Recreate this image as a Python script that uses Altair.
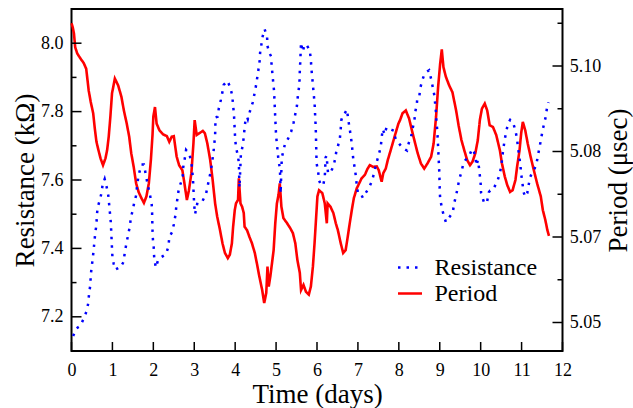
import altair as alt
import pandas as pd

# ---------------- data ----------------
res_t = [0.04, 0.12, 0.21, 0.30, 0.37, 0.41, 0.43, 0.46, 0.47, 0.49, 0.52, 0.54, 0.56, 0.58, 0.61, 0.62,
         0.64, 0.70, 0.74, 0.76, 0.81, 0.86, 0.90, 0.92, 0.94, 0.96, 0.97, 0.98, 0.99, 1.00, 1.03, 1.07,
         1.15, 1.19, 1.27, 1.31, 1.35, 1.39, 1.43, 1.45, 1.49, 1.53, 1.58, 1.60, 1.63, 1.66, 1.71, 1.77,
         1.85, 1.92, 1.96, 1.97, 1.98, 1.99, 2.01, 2.02, 2.06, 2.12, 2.20, 2.31, 2.37, 2.39, 2.46, 2.50,
         2.54, 2.56, 2.59, 2.62, 2.67, 2.72, 2.73, 2.77, 2.80, 2.88, 2.93, 2.95, 2.97, 2.98, 3.00, 3.02,
         3.08, 3.20, 3.29, 3.33, 3.37, 3.41, 3.44, 3.47, 3.49, 3.51, 3.515, 3.52, 3.57, 3.60, 3.65, 3.69,
         3.72, 3.81, 3.88, 3.93, 3.95, 3.97, 3.98, 3.99, 4.00, 4.02, 4.06, 4.09, 4.095, 4.10, 4.105, 4.14,
         4.18, 4.21, 4.23, 4.25, 4.29, 4.31, 4.37, 4.43, 4.47, 4.51, 4.54, 4.57, 4.60, 4.61, 4.64, 4.67,
         4.72, 4.78, 4.79, 4.83, 4.88, 4.89, 4.91, 4.93, 4.95, 4.96, 4.97, 4.98, 4.99, 5.00, 5.02, 5.04,
         5.06, 5.09, 5.10, 5.105, 5.11, 5.14, 5.19, 5.22, 5.29, 5.37, 5.43, 5.47, 5.51, 5.53, 5.56, 5.575,
         5.58, 5.59, 5.60, 5.61, 5.65, 5.70, 5.75, 5.82, 5.85, 5.86, 5.88, 5.90, 5.92, 5.94, 5.95, 5.96,
         5.97, 5.975, 5.98, 5.985, 5.99, 6.03, 6.05, 6.09, 6.15, 6.19, 6.20, 6.21, 6.24, 6.25, 6.27, 6.32,
         6.40, 6.45, 6.48, 6.51, 6.56, 6.58, 6.59, 6.62, 6.66, 6.73, 6.76, 6.79, 6.82, 6.85, 6.87, 6.89,
         6.92, 6.95, 6.97, 7.00, 7.07, 7.12, 7.19, 7.27, 7.34, 7.39, 7.43, 7.47, 7.51, 7.56, 7.58, 7.61,
         7.65, 7.70, 7.78, 7.84, 7.88, 7.92, 8.01, 8.09, 8.20, 8.24, 8.30, 8.34, 8.38, 8.40, 8.44, 8.45,
         8.50, 8.52, 8.57, 8.62, 8.69, 8.74, 8.79, 8.83, 8.87, 8.89, 8.91, 8.92, 8.94, 8.95, 8.96, 8.97,
         8.98, 8.99, 8.995, 9.00, 9.01, 9.05, 9.09, 9.15, 9.23, 9.32, 9.35, 9.40, 9.44, 9.48, 9.54, 9.58,
         9.62, 9.68, 9.74, 9.79, 9.84, 9.87, 9.90, 9.93, 9.96, 9.98, 10.00, 10.01, 10.08, 10.15, 10.20, 10.23,
         10.30, 10.41, 10.47, 10.51, 10.53, 10.56, 10.59, 10.63, 10.67, 10.72, 10.79, 10.85, 10.89, 10.91, 10.94, 10.97,
         10.99, 11.02, 11.05, 11.09, 11.14, 11.17, 11.21, 11.25, 11.30, 11.36, 11.40, 11.44, 11.48, 11.52, 11.55, 11.59,
         11.62, 11.66]
res_kohm = [7.144, 7.166, 7.173, 7.195, 7.217, 7.240, 7.268, 7.293, 7.319, 7.344, 7.370, 7.395, 7.419, 7.445, 7.469, 7.497,
            7.520, 7.545, 7.566, 7.587, 7.603, 7.579, 7.554, 7.529, 7.503, 7.477, 7.452, 7.426, 7.399, 7.375, 7.356, 7.338,
            7.343, 7.343, 7.360, 7.394, 7.419, 7.443, 7.467, 7.491, 7.508, 7.532, 7.555, 7.580, 7.606, 7.623, 7.645, 7.645,
            7.594, 7.555, 7.530, 7.503, 7.453, 7.426, 7.402, 7.375, 7.344, 7.367, 7.375, 7.383, 7.406, 7.433, 7.448, 7.470,
            7.497, 7.521, 7.547, 7.572, 7.591, 7.613, 7.637, 7.664, 7.688, 7.676, 7.652, 7.628, 7.600, 7.574, 7.525, 7.500,
            7.535, 7.538, 7.560, 7.584, 7.606, 7.630, 7.655, 7.681, 7.706, 7.730, 7.756, 7.783, 7.785, 7.809, 7.834, 7.858,
            7.878, 7.890, 7.871, 7.846, 7.817, 7.793, 7.769, 7.744, 7.720, 7.696, 7.674, 7.652, 7.628, 7.603, 7.577, 7.676,
            7.698, 7.725, 7.752, 7.773, 7.785, 7.778, 7.805, 7.827, 7.851, 7.876, 7.900, 7.924, 7.950, 7.973, 7.995, 8.019,
            8.041, 8.018, 7.992, 7.973, 7.961, 7.936, 7.911, 7.885, 7.861, 7.834, 7.808, 7.781, 7.756, 7.730, 7.706, 7.681,
            7.655, 7.637, 7.613, 7.589, 7.560, 7.666, 7.691, 7.707, 7.720, 7.742, 7.769, 7.793, 7.817, 7.843, 7.871, 7.895,
            7.919, 7.943, 7.973, 8.002, 7.975, 7.997, 7.994, 7.980, 7.953, 7.929, 7.905, 7.878, 7.851, 7.827, 7.801, 7.776,
            7.749, 7.725, 7.698, 7.674, 7.649, 7.623, 7.599, 7.587, 7.584, 7.608, 7.633, 7.666, 7.671, 7.645, 7.620, 7.620,
            7.639, 7.665, 7.691, 7.698, 7.723, 7.749, 7.773, 7.785, 7.791, 7.806, 7.781, 7.756, 7.733, 7.706, 7.681, 7.657,
            7.637, 7.611, 7.587, 7.562, 7.560, 7.548, 7.562, 7.577, 7.596, 7.618, 7.639, 7.657, 7.674, 7.698, 7.725, 7.749,
            7.733, 7.754, 7.749, 7.746, 7.744, 7.720, 7.706, 7.694, 7.686, 7.707, 7.727, 7.752, 7.773, 7.798, 7.822, 7.837,
            7.843, 7.867, 7.890, 7.908, 7.917, 7.921, 7.895, 7.871, 7.846, 7.820, 7.795, 7.769, 7.744, 7.720, 7.696, 7.672,
            7.645, 7.620, 7.594, 7.569, 7.545, 7.520, 7.499, 7.477, 7.490, 7.506, 7.531, 7.555, 7.579, 7.603, 7.628, 7.650,
            7.657, 7.666, 7.676, 7.691, 7.681, 7.666, 7.642, 7.658, 7.635, 7.613, 7.589, 7.562, 7.535, 7.532, 7.564, 7.569,
            7.571, 7.597, 7.620, 7.645, 7.669, 7.696, 7.720, 7.744, 7.766, 7.776, 7.769, 7.744, 7.720, 7.696, 7.672, 7.645,
            7.618, 7.591, 7.564, 7.551, 7.562, 7.584, 7.608, 7.620, 7.628, 7.645, 7.672, 7.696, 7.723, 7.749, 7.764, 7.785,
            7.810, 7.827]

per_t = [0.00, 0.03, 0.06, 0.09, 0.14, 0.22, 0.30, 0.36, 0.42, 0.47, 0.53, 0.57, 0.61, 0.66, 0.71, 0.77,
         0.83, 0.87, 0.91, 0.95, 0.99, 1.06, 1.14, 1.22, 1.28, 1.35, 1.41, 1.46, 1.52, 1.58, 1.64, 1.71,
         1.77, 1.83, 1.89, 1.94, 1.98, 2.00, 2.04, 2.08, 2.15, 2.24, 2.33, 2.39, 2.45, 2.50, 2.57, 2.63,
         2.71, 2.76, 2.82, 2.87, 2.93, 2.98, 3.01, 3.06, 3.12, 3.21, 3.26, 3.32, 3.39, 3.45, 3.51, 3.56,
         3.63, 3.69, 3.75, 3.82, 3.87, 3.92, 3.95, 3.99, 4.02, 4.07, 4.09, 4.13, 4.17, 4.21, 4.23, 4.29,
         4.35, 4.41, 4.48, 4.53, 4.59, 4.66, 4.71, 4.76, 4.79, 4.82, 4.86, 4.90, 4.94, 4.98, 5.02, 5.06,
         5.09, 5.13, 5.18, 5.27, 5.35, 5.41, 5.47, 5.52, 5.58, 5.61, 5.67, 5.73, 5.80, 5.85, 5.90, 5.94,
         5.98, 6.01, 6.05, 6.13, 6.19, 6.24, 6.26, 6.33, 6.40, 6.46, 6.51, 6.58, 6.64, 6.70, 6.74, 6.80,
         6.85, 6.90, 6.97, 7.03, 7.09, 7.17, 7.23, 7.29, 7.37, 7.46, 7.51, 7.58, 7.62, 7.68, 7.73, 7.80,
         7.86, 7.92, 7.99, 8.03, 8.09, 8.17, 8.25, 8.33, 8.40, 8.46, 8.54, 8.62, 8.70, 8.79, 8.85, 8.91,
         8.96, 9.01, 9.05, 9.09, 9.15, 9.23, 9.31, 9.40, 9.46, 9.53, 9.60, 9.67, 9.74, 9.80, 9.87, 9.93,
         9.98, 10.03, 10.10, 10.16, 10.22, 10.30, 10.38, 10.47, 10.52, 10.59, 10.65, 10.72, 10.78, 10.85, 10.89, 10.95,
         10.99, 11.03, 11.09, 11.15, 11.22, 11.30, 11.38, 11.47, 11.52, 11.58, 11.63, 11.67]
per_usec = [5.1075, 5.1068, 5.1057, 5.1033, 5.1022, 5.1013, 5.1005, 5.0995, 5.0957, 5.0937, 5.0917, 5.0890, 5.0867, 5.0852, 5.0838, 5.0826,
            5.0838, 5.0852, 5.0876, 5.0911, 5.0952, 5.0978, 5.0966, 5.0946, 5.0922, 5.0899, 5.0876, 5.0847, 5.0823, 5.0794, 5.0779, 5.0768,
            5.0760, 5.0771, 5.0794, 5.0835, 5.0879, 5.0911, 5.0928, 5.0899, 5.0887, 5.0880, 5.0877, 5.0867, 5.0876, 5.0877, 5.0841, 5.0826,
            5.0817, 5.0794, 5.0765, 5.0782, 5.0812, 5.0864, 5.0905, 5.0879, 5.0882, 5.0886, 5.0882, 5.0864, 5.0835, 5.0800, 5.0759, 5.0736,
            5.0712, 5.0689, 5.0672, 5.0663, 5.0669, 5.0689, 5.0718, 5.0747, 5.0759, 5.0765, 5.0803, 5.0759, 5.0753, 5.0742, 5.0718, 5.0712,
            5.0700, 5.0689, 5.0672, 5.0654, 5.0631, 5.0607, 5.0584, 5.0602, 5.0648, 5.0613, 5.0631, 5.0654, 5.0677, 5.0724, 5.0759, 5.0774,
            5.0794, 5.0753, 5.0733, 5.0724, 5.0715, 5.0707, 5.0689, 5.0660, 5.0637, 5.0607, 5.0616, 5.0604, 5.0599, 5.0613, 5.0648, 5.0689,
            5.0736, 5.0771, 5.0782, 5.0777, 5.0759, 5.0724, 5.0759, 5.0753, 5.0742, 5.0724, 5.0712, 5.0689, 5.0672, 5.0677, 5.0695, 5.0724,
            5.0747, 5.0768, 5.0785, 5.0794, 5.0803, 5.0809, 5.0819, 5.0826, 5.0823, 5.0824, 5.0817, 5.0797, 5.0812, 5.0820, 5.0835, 5.0852,
            5.0867, 5.0882, 5.0899, 5.0905, 5.0917, 5.0922, 5.0908, 5.0884, 5.0864, 5.0847, 5.0829, 5.0820, 5.0829, 5.0841, 5.0864, 5.0911,
            5.0963, 5.1004, 5.1029, 5.0998, 5.0981, 5.0966, 5.0954, 5.0922, 5.0896, 5.0870, 5.0852, 5.0835, 5.0826, 5.0832, 5.0847, 5.0870,
            5.0905, 5.0925, 5.0934, 5.0922, 5.0896, 5.0893, 5.0879, 5.0852, 5.0829, 5.0806, 5.0791, 5.0779, 5.0782, 5.0800, 5.0823, 5.0852,
            5.0882, 5.0902, 5.0887, 5.0864, 5.0841, 5.0817, 5.0794, 5.0771, 5.0747, 5.0730, 5.0712, 5.0702]

series_names = ["Resistance", "Period"]
series_colors = ["#0000ff", "#ff0000"]

x_tick_values = [0, 1, 2, 3, 4, 5, 6, 7, 8, 9, 10, 11, 12]
left_major = [7.2, 7.4, 7.6, 7.8, 8.0]
left_minor = [7.3, 7.5, 7.7, 7.9]
right_major = [5.055, 5.07, 5.085, 5.10]
right_labels = ["5.05", "5.07", "5.08", "5.10"]
right_minor = [5.0625, 5.0775, 5.0925, 5.1075]

# ---------------- layout / style ----------------
W, H = 491, 342
FONT = "Liberation Serif"

res_df = pd.DataFrame({"t": res_t, "v": res_kohm, "series": series_names[0]})
per_df = pd.DataFrame({"t": per_t, "v": per_usec, "series": series_names[1]})

xs = alt.Scale(domain=[0, 12], nice=False, zero=False)
yl = alt.Scale(domain=[7.1, 8.1], nice=False, zero=False)
yr = alt.Scale(domain=[5.05, 5.11], nice=False, zero=False)

legend = alt.Legend(orient="none", legendX=325, legendY=245, title=None,
                    symbolType="stroke", symbolSize=576, symbolStrokeWidth=2.5,
                    labelFont=FONT, labelFontSize=24, labelColor="black",
                    labelOffset=11, rowPadding=0, padding=0)
color = alt.Color("series:N", scale=alt.Scale(domain=series_names, range=series_colors), legend=legend)
dash = alt.StrokeDash("series:N", scale=alt.Scale(domain=series_names, range=[[2.5, 6], [1, 0]]), legend=legend)

common_axis = dict(labelFont=FONT, titleFont=FONT, labelColor="black", titleColor="black",
                   labelFontSize=18, titleFontSize=27, titleFontWeight="normal",
                   grid=False, domain=False, ticks=False)

x_axis = alt.Axis(values=x_tick_values, format="d", title="Time (days)",
                  labelFlush=False, labelOverlap=False, labelBaseline="alphabetic",
                  labelPadding=24.5, titleY=51.5, titleBaseline="alphabetic", **common_axis)

left_axis = alt.Axis(orient="left", values=left_major, format=".1f", title="Resistance (kΩ)",
                     labelPadding=8.5, titleX=-38.5, titleY=H / 2, titleAngle=270,
                     titleAlign="center", titleBaseline="alphabetic", **common_axis)

expr = "'" + right_labels[-1] + "'"
for v, lab in reversed(list(zip(right_major[:-1], right_labels[:-1]))):
    expr = "datum.value < %s ? '%s' : (%s)" % (v + 0.001, lab, expr)
right_axis = alt.Axis(orient="right", values=right_major, labelExpr=expr, title="Period (μsec)",
                      labelPadding=6.8, titleX=63.5, titleY=H / 2, titleAngle=270,
                      titleAlign="center", titleBaseline="alphabetic", **common_axis)

res_line = alt.Chart(res_df).mark_line(strokeWidth=2.5).encode(
    x=alt.X("t:Q", scale=xs, axis=x_axis),
    y=alt.Y("v:Q", scale=yl, axis=left_axis),
    color=color, strokeDash=dash, order="t:Q")

per_line = alt.Chart(per_df).mark_line(strokeWidth=2.6).encode(
    x=alt.X("t:Q", scale=xs),
    y=alt.Y("v:Q", scale=yr, axis=right_axis),
    color=color, strokeDash=dash, order="t:Q")

x_ticks = alt.Chart(pd.DataFrame({"v": x_tick_values})).mark_rule(color="black", strokeWidth=1.5).encode(
    x=alt.X("v:Q", scale=xs), y=alt.value(H), y2=alt.value(H - 9))

lmaj = alt.Chart(pd.DataFrame({"v": left_major})).mark_rule(color="black", strokeWidth=1.5).encode(
    y=alt.Y("v:Q", scale=yl, axis=None), x=alt.value(0), x2=alt.value(10))
lmin = alt.Chart(pd.DataFrame({"v": left_minor})).mark_rule(color="black", strokeWidth=1.5).encode(
    y=alt.Y("v:Q", scale=yl, axis=None), x=alt.value(0), x2=alt.value(5))
rmaj = alt.Chart(pd.DataFrame({"v": right_major})).mark_rule(color="black", strokeWidth=1.5).encode(
    y=alt.Y("v:Q", scale=yr, axis=None), x=alt.value(W), x2=alt.value(W - 10))
rmin = alt.Chart(pd.DataFrame({"v": right_minor})).mark_rule(color="black", strokeWidth=1.5).encode(
    y=alt.Y("v:Q", scale=yr, axis=None), x=alt.value(W), x2=alt.value(W - 5))

chart = alt.layer(per_line, res_line, x_ticks, lmaj, lmin, rmaj, rmin).resolve_scale(
    y="independent").properties(
    width=W, height=H,
    padding={"left": 71.5, "top": 9, "right": 70.5, "bottom": 57},
    autosize=alt.AutoSizeParams(type="none"),
    background="white",
).configure_view(stroke="black", strokeWidth=2)

chart.save("out.html", embed_options={"renderer": "svg", "actions": False})
